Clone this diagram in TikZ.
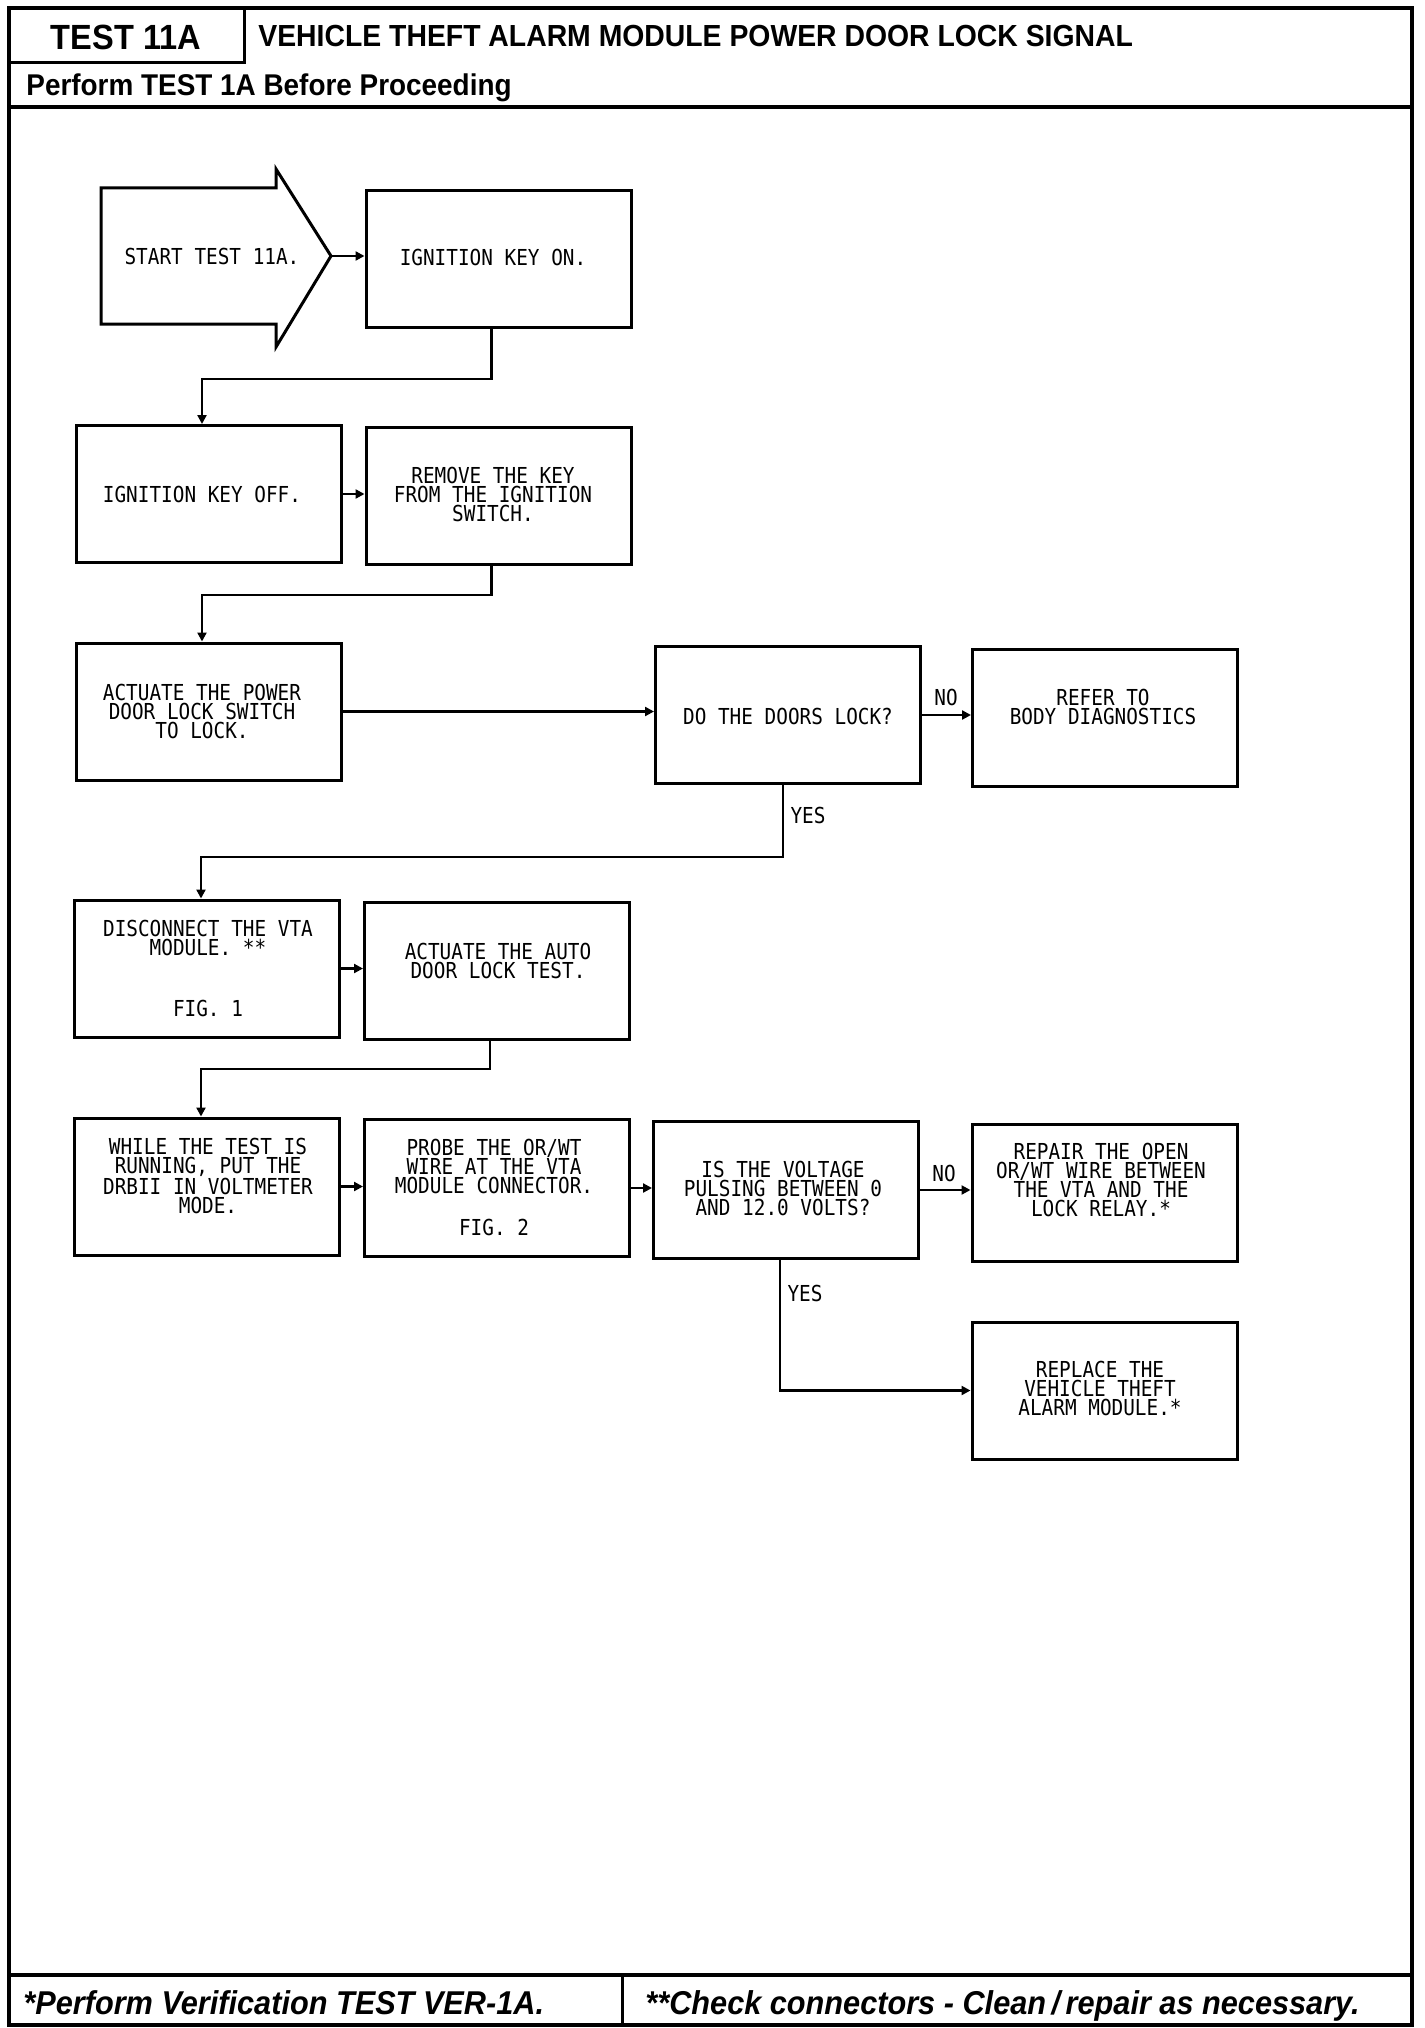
\documentclass[tikz,border=0pt]{standalone}
\usepackage{fontspec}
\usetikzlibrary{arrows.meta,calc}
\newfontfamily\plotfont{DejaVu Sans Mono}[FakeStretch=0.88]
\newfontfamily\hfont{Liberation Sans}[FakeStretch=0.93]
\begin{document}
\begin{tikzpicture}[x=0.5pt,y=-0.5pt,
  box/.style={draw,line width=1.5pt,minimum width=132.5pt,minimum height=68.5pt,inner sep=0pt},
  txt/.style={font=\plotfont\fontsize{11}{9.5}\selectfont,align=center,inner sep=0pt},
  conn/.style={line width=1.25pt,-{Triangle[length=4.5pt,width=4.5pt]}},
  frame/.style={line width=2pt},
  hdr/.style={inner sep=0pt,font=\hfont\bfseries\fontsize{15.25}{17}\selectfont},
  ftr/.style={inner sep=0pt,anchor=base west,font=\hfont\bfseries\itshape\fontsize{16.5}{18}\selectfont}]
\useasboundingbox (0,0) rectangle (1424,2028);
% frame
\draw[frame] (9,8) rectangle (1412,2025);
\draw[line width=1.5pt] (244,8) -- (244,63) -- (9,63);
\draw[frame] (9,107) -- (1412,107);
\draw[line width=1.75pt] (9,1975) -- (1412,1975);
\draw[line width=1.5pt] (622,1975) -- (622,2025);
% header texts
\node[hdr,anchor=base,font=\hfont\bfseries\fontsize{17.5}{20}\selectfont] (testid) at (126,50) {TEST 11A};
\node[hdr,anchor=base west] (title) at (258,47) {VEHICLE THEFT ALARM MODULE POWER DOOR LOCK SIGNAL};
\node[hdr,anchor=base west,font=\hfont\bfseries\fontsize{15}{17}\selectfont] (pre) at (26,96) {Perform TEST 1A Before Proceeding};
% footer texts
\node[ftr] (ft1) at (23,2014) {*Perform Verification TEST VER-1A.};
\node[ftr] (ft2) at (645,2014) {**Check connectors - Clean\,/\,repair as necessary.};
% start arrow
\draw[line width=1.5pt,line join=miter] (101,188) -- (276,188) -- (276,169) -- (331,256) -- (276,347) -- (276,324) -- (101,324) -- cycle;
\coordinate (starttip) at (331,256);
\node[txt] (starttxt) at (212,256) {START TEST 11A.};
% boxes
\node[box] (ikon) at (498.5,259) {};
\node[box] (iko) at (208.5,494) {};
\node[box] (remove) at (498.5,496) {};
\node[box] (act) at (208.5,711.5) {};
\node[box] (do) at (788,715) {};
\node[box] (refer) at (1105,717.5) {};
\node[box] (disc) at (207,968.5) {};
\node[box] (auto) at (497,971) {};
\node[box] (while) at (207,1186.5) {};
\node[box] (probe) at (497,1188) {};
\node[box] (isv) at (786,1190) {};
\node[box] (repair) at (1104.5,1192.5) {};
\node[box] (replace) at (1104.5,1390.5) {};
% box texts
\node[txt] (ikontxt) at (493,257) {IGNITION KEY ON.};
\node[txt] (ikotxt) at (202,494) {IGNITION KEY OFF.};
\node[txt] (removetxt) at (493,494) {REMOVE THE KEY\\FROM THE IGNITION\\SWITCH.};
\node[txt] (acttxt) at (202,711) {ACTUATE THE POWER\\DOOR LOCK SWITCH\\TO LOCK.};
\node[txt] (dotxt) at (788,716) {DO THE DOORS LOCK?};
\node[txt] (refertxt) at (1103,707) {REFER TO\\BODY DIAGNOSTICS};
\node[txt] (disctxt) at (208,968) {DISCONNECT THE VTA\\MODULE. **\\[21pt]FIG. 1};
\node[txt] (autotxt) at (498,960.5) {ACTUATE THE AUTO\\DOOR LOCK TEST.};
\node[txt] (whiletxt) at (208,1176) {WHILE THE TEST IS\\RUNNING, PUT THE\\DRBII IN VOLTMETER\\MODE.};
\node[txt] (probetxt) at (494,1187.5) {PROBE THE OR/WT\\WIRE AT THE VTA\\MODULE CONNECTOR.\\[11.5pt]FIG. 2};
\node[txt] (isvtxt) at (783,1188) {IS THE VOLTAGE\\PULSING BETWEEN 0\\AND 12.0 VOLTS?};
\node[txt] (repairtxt) at (1101,1180) {REPAIR THE OPEN\\OR/WT WIRE BETWEEN\\THE VTA AND THE\\LOCK RELAY.*};
\node[txt] (replacetxt) at (1100,1388.5) {REPLACE THE\\VEHICLE THEFT\\ALARM MODULE.*};
% labels
\node[txt] (no1) at (946,697) {NO};
\node[txt] (yes1) at (808,815) {YES};
\node[txt] (no2) at (944,1173) {NO};
\node[txt] (yes2) at (805,1293) {YES};
% connectors
\draw[conn] (starttip) -- (ikon.west |- starttip);
\draw[conn] ([xshift=-3.5pt]ikon.south) -- ++(0,50) -| ([xshift=-3.25pt]iko.north);
\draw[conn] (iko.east) -- (remove.west |- iko.east);
\draw[conn] ([xshift=-3.5pt]remove.south) -- ++(0,29) -| ([xshift=-3.25pt]act.north);
\draw[conn] (act.east) -- (do.west |- act.east);
\draw[conn] (do.east) -- (refer.west |- do.east);
\draw[conn] ([xshift=-2.5pt]do.south) -- ++(0,72) -| ([xshift=-3pt]disc.north);
\draw[conn] (disc.east) -- (auto.west |- disc.east);
\draw[conn] ([xshift=-3.5pt]auto.south) -- ++(0,28) -| ([xshift=-3pt]while.north);
\draw[conn] (while.east) -- (probe.west |- while.east);
\draw[conn] (probe.east) -- (isv.west |- probe.east);
\draw[conn] (isv.east) -- (repair.west |- isv.east);
\draw[conn] ([xshift=-3pt]isv.south) |- (replace.west);
\end{tikzpicture}
\end{document}
